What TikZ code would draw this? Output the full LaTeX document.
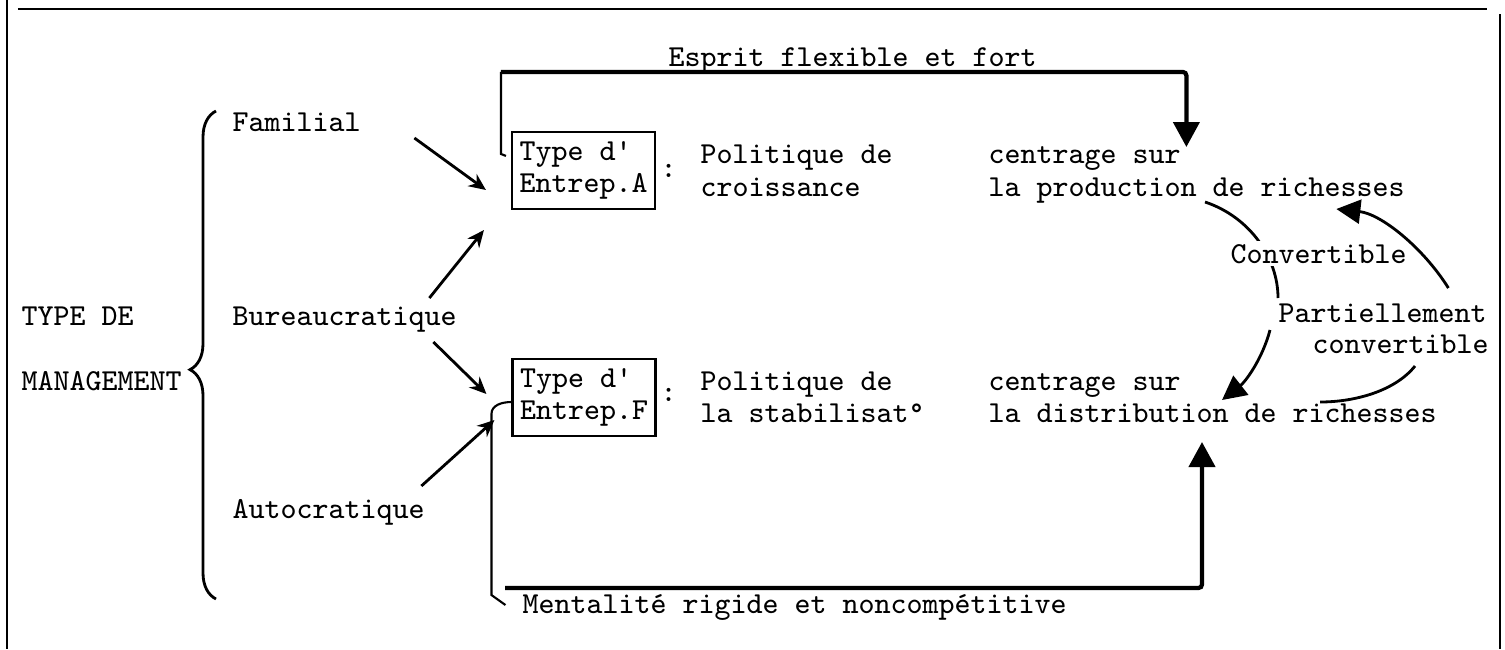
\documentclass[tikz,border=0pt]{standalone}
\usepackage{fontspec}
\usetikzlibrary{calc,arrows.meta,decorations.pathreplacing}

\tikzset{
  lbl/.style={anchor=base west,inner sep=0pt},
  typebox/.style={draw,semithick,align=left,inner sep=0pt,minimum width=1.43cm,minimum height=0.77cm},
  arr/.style={thick,-{Stealth[length=0.17cm,width=0.15cm]}},
  bigarr/.style={very thick,rounded corners=1pt,-{Triangle[length=0.25cm,width=0.26cm]}},
  curvarr/.style={thick,-{Triangle[length=0.24cm,width=0.24cm]}}
}

\begin{document}
\begin{tikzpicture}[font=\ttfamily\fontsize{8.67}{9.25}\selectfont]
\fill[white] (0,0) rectangle (15.05,-6.49);
\useasboundingbox (0,0) rectangle (15.05,-6.49);
%frame
\draw[thick] (0.07,0) -- (0.07,-6.49);
\draw[thick] (0.18,-0.09) -- (14.87,-0.09);
\draw[semithick] (15.00,-0.14) -- (15.00,-6.49);

%Labeling texts
\node (esprit) at (6.68,-0.66)[lbl] {Esprit flexible et fort};
\node (typede) at (0.21,-3.25)[lbl] {TYPE DE};
\node (mgmt) at (0.21,-3.90)[lbl] {MANAGEMENT};
\node (fam) at (2.32,-1.31)[lbl] {Familial};
\node (bur) at (2.32,-3.25)[lbl] {Bureaucratique};
\node (aut) at (2.32,-5.18)[lbl] {Autocratique};
\node[typebox] (boxA) at (5.835,-1.705) {Type d\textquotesingle\\Entrep.A};
\node[typebox] (boxF) at (5.84,-3.975) {Type d\textquotesingle\\Entrep.F};
\node (colA) at (6.60,-1.77)[lbl] {:};
\node (colF) at (6.60,-4.01)[lbl] {:};
\node (polA1) at (7.00,-1.63)[lbl] {Politique de};
\node (polA2) at (7.00,-1.96)[lbl] {croissance};
\node (cenA1) at (9.88,-1.63)[lbl] {centrage sur};
\node (cenA2) at (9.88,-1.96)[lbl] {la production de richesses};
\node (polF1) at (7.00,-3.90)[lbl] {Politique de};
\node (polF2) at (7.00,-4.22)[lbl] {la stabilisat°};
\node (cenF1) at (9.88,-3.90)[lbl] {centrage sur};
\node (cenF2) at (9.88,-4.22)[lbl] {la distribution de richesses};
\node (part1) at (12.78,-3.22)[lbl] {Partiellement};
\node (part2) at (13.12,-3.53)[lbl] {convertible};
\node (ment) at (5.22,-6.13)[lbl] {Mentalité rigide et noncompétitive};

%brace
\draw[thick,decorate,decoration={brace,amplitude=0.26cm,aspect=0.47}] (2.16,-5.99) -- (2.16,-1.11);

%management arrows
\draw[arr] ($(fam.base east)+(0.53,-0.07)$) -- ($(boxA.west)+(-0.25,-0.195)$);
\draw[arr] ($(bur.base east)+(-0.28,0.27)$) -- ($(boxA.south west)+(-0.27,-0.20)$);
\draw[arr] ($(bur.base east)+(-0.24,-0.17)$) -- ($(boxF.west)+(-0.25,0.035)$);
\draw[arr] ($(aut.base east)+(-0.04,0.32)$) -- ($(boxF.west)+(-0.17,-0.225)$);

%top and bottom loops
\draw[semithick] ($(boxA.north west)+(-0.05,-0.25)$) -- ++(-0.05,0.02) -- ++(0,0.82);
\draw[bigarr] ($(boxA.north west)+(-0.10,0.59)$) -| ($(cenA1.base east)+(0.05,0.16)$);
\draw[semithick] ($(boxF.west)+(0,-0.045)$) to[out=180,in=90] ++(-0.20,-0.12) -- ++(0,-1.81) -- ++(0.14,-0.10);
\draw[bigarr] ($(ment.base west)+(-0.17,0.25)$) -| ($(cenF2.base west)+(2.14,-0.20)$);

%conversions
\draw[thick] ($(cenA2.base west)+(2.17,-0.06)$) .. controls +(0.45,-0.15) and +(0,0.40) .. ($(part1.base west)+(0,0.24)$);
\node[fill=white,inner sep=0.03cm,anchor=base west] (conv) at (12.27,-2.63) {Convertible};
\draw[curvarr] ($(part1.base west)+(-0.08,-0.08)$) .. controls +(-0.08,-0.30) and +(0.23,0.18) .. ($(cenF2.base west)+(2.34,0.22)$);
\draw[curvarr] ($(part1.base east)+(-0.39,0.34)$) .. controls +(-0.25,0.40) and +(0.45,-0.05) .. ($(cenA2.base east)+(-0.69,-0.13)$);
\draw[thick] ($(part2.base west)+(1.03,-0.13)$) .. controls +(-0.20,-0.25) and +(0.35,0) .. ($(cenF2.base west)+(3.32,0.20)$);
\end{tikzpicture}
\end{document}
